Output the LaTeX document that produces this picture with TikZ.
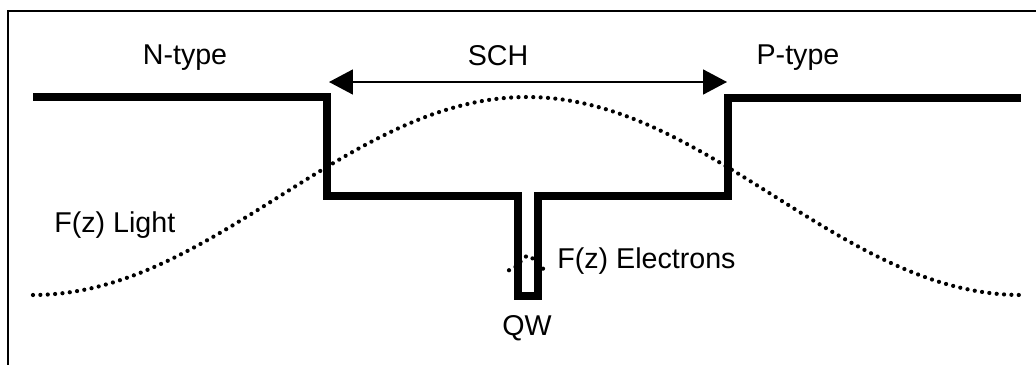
\documentclass[tikz,border=0pt]{standalone}
\usepackage{fontspec}
\setmainfont{Liberation Sans}
\usepackage{tikz}
\usetikzlibrary{arrows.meta}

\begin{document}
\begin{tikzpicture}[
  x=0.02cm, y=-0.02cm,
  band/.style  = {line width=4.1pt, line join=miter, line cap=butt},
  frame/.style = {line width=1.6pt},
  light/.style = {line width=2.4pt, line cap=round, dash pattern=on 0pt off 4.2pt},
  lbl/.style   = {inner sep=0pt, font=\fontsize{16.3}{19}\selectfont},
  arr/.style   = {{Triangle[length=0.48cm, width=0.5cm]}-{Triangle[length=0.48cm, width=0.5cm]}, line width=1pt}
]
\useasboundingbox (0,0) rectangle (1036,365);

% frame
\draw[frame] (8,365) -- (8,11) -- (1036,11);

% band edge with SCH and quantum well
\draw[band] (33,97) -- (327,97) -- (327,196) -- (518,196) -- (518,296)
  -- (538,296) -- (538,196) -- (728,196) -- (728,98) -- (1021,98);

% optical mode
\draw[light] plot[domain=33:1021, samples=120] (\x, {196-99*cos(0.36437*(\x-527))});

% electron wave function
\draw[light] plot[domain=509:548, samples=30] (\x, {271-15*exp(-((\x-528)/11)^2)});

% SCH arrow
\coordinate (schl) at (329,82);
\coordinate (schr) at (727,82);
\draw[arr] (schl) -- (schr);

% labels
\node[lbl, anchor=base] (ntype) at (185,64) {N-type};
\node[lbl, anchor=base] (sch)   at (498,66) {SCH};
\node[lbl, anchor=base] (ptype) at (798,64) {P-type};
\node[lbl, anchor=base west] (flight) at (54,232) {F(z) Light};
\node[lbl, anchor=base west] (felec)  at (557,268) {F(z) Electrons};
\node[lbl, anchor=base] (qw) at (527,335) {QW};

\end{tikzpicture}
\end{document}
